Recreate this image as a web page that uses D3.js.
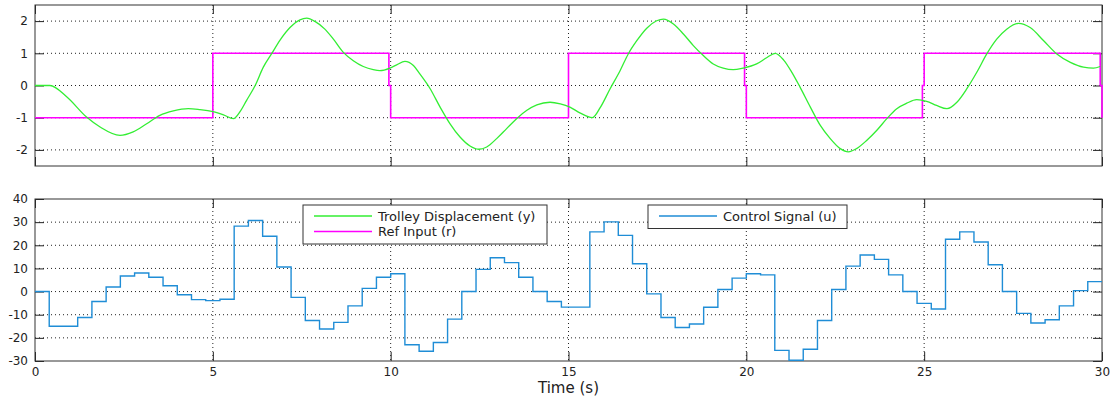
<!DOCTYPE html>
<html>
<head>
<meta charset="utf-8">
<script src="https://cdn.jsdelivr.net/npm/d3@7"></script>
<style>
  body { margin: 0; background: #fff; }
  text { font-family: "DejaVu Sans", sans-serif; fill: #222; }
</style>
</head>
<body>
<script>
'use strict';

// trolley displacement y
let yTimes = [0, 0.42, 0.89, 1.45, 1.83, 2.39, 2.76, 3.14, 3.51, 3.89, 4.31, 4.64, 4.97, 5.3, 5.58, 5.76, 5.95,
  6.19, 6.42, 6.65, 6.89, 7.17, 7.45, 7.64, 7.87, 8.15, 8.39, 8.67, 8.95, 9.23, 9.51, 9.7, 9.98, 10.17, 10.4,
  10.64, 10.82, 11.11, 11.39, 11.67, 11.95, 12.23, 12.47, 12.7, 12.98, 13.26, 13.54, 13.83, 14.11, 14.48, 14.77,
  15.04, 15.32, 15.67, 15.9, 16.17, 16.45, 16.68, 16.92, 17.2, 17.48, 17.67, 17.95, 18.23, 18.51, 18.79, 19.07,
  19.35, 19.63, 19.91, 20.29, 20.57, 20.81, 21.05, 21.28, 21.51, 21.8, 22.08, 22.36, 22.64, 22.87, 23.1, 23.39,
  23.67, 23.95, 24.23, 24.51, 24.79, 25.07, 25.35, 25.64, 25.92, 26.2, 26.48, 26.76, 27.04, 27.32, 27.65, 27.98,
  28.36, 28.73, 29.11, 29.48, 29.76, 29.95];
let yValues = [0, 0, -0.35, -0.98, -1.29, -1.55, -1.44, -1.19, -0.93, -0.79, -0.72, -0.75, -0.8, -0.91, -1.03, -0.82, -0.46,
  0, 0.57, 0.98, 1.41, 1.8, 2.04, 2.09, 1.99, 1.75, 1.44, 1.03, 0.77, 0.59, 0.49, 0.46, 0.54, 0.64, 0.75,
  0.62, 0.36, -0.1, -0.67, -1.19, -1.6, -1.88, -1.98, -1.91, -1.65, -1.34, -1.03, -0.77, -0.6, -0.52, -0.57,
  -0.67, -0.85, -1.0, -0.67, -0.1, 0.46, 0.98, 1.39, 1.78, 2.01, 2.06, 1.91, 1.6, 1.24, 0.93, 0.67,
  0.54, 0.49, 0.54, 0.67, 0.86, 1.0, 0.79, 0.41, -0.05, -0.67, -1.24, -1.65, -1.96, -2.06, -1.96, -1.7,
  -1.39, -1.03, -0.72, -0.55, -0.44, -0.49, -0.62, -0.72, -0.52, -0.1, 0.41, 0.98, 1.44, 1.75, 1.93, 1.8,
  1.39, 0.98, 0.72, 0.57, 0.54, 0.59];

// reference input r (square wave corners)
let rTimes = [0, 5, 5, 9.95, 9.95, 10, 10, 15, 15, 19.95, 19.95, 20, 20, 24.95, 24.95, 25, 25, 29.95, 29.95, 30, 30];
let rValues = [-1, -1, 1, 1, 0, 0, -1, -1, 1, 1, 0, 0, -1, -1, 0, 0, 1, 1, 0, 0, -1];

// control signal u, held every 0.4 s
let uStep = 0.4;
let uValues = [0, -15, -15, -11.2, -4.3, 2, 6.7, 8, 6.2, 2.5, -1.4, -3.5, -3.9, -3.3, 28.3, 30.7, 23.9, 10.6, -2.5,
  -12.5, -16.2, -13.3, -6.2, 1.4, 6.2, 7.7, -23, -25.8, -22, -11.9, 0, 9.6, 14.6, 12.5, 6.2, 0, -4.3, -6.7,
  -6.7, 25.8, 30.1, 24.3, 12, -1, -11.2, -15.5, -14, -6.8, 0.9, 5.8, 7.7, 7.2, -25.4, -29.7, -24.9, -12.5, 0.9,
  11, 15.8, 13.9, 7.2, 0, -5.1, -7.5, 22.6, 25.8, 21.4, 11.6, 0, -9.4, -13.6, -12.2, -6.2, 0.4, 4.3];

let xTicks = [0, 5, 10, 15, 20, 25, 30];
let topTicks = [-2, -1, 0, 1, 2];
let botTicks = [-30, -20, -10, 0, 10, 20, 30, 40];

let width = 1114;
let height = 402;
let left = 35, right = 1102;
let tickLen = 9;

let svg = d3.select('body').append('svg')
    .attr('width', width)
    .attr('height', height);

let x = d3.scaleLinear().domain([0, 30]).range([left, right]);
let yTop = d3.scaleLinear().domain([-2.5, 2.5]).range([166, 5]);
let yBot = d3.scaleLinear().domain([-30, 40]).range([361, 199]);

// plain hyphen for negatives, like the original
let fmt = d => String(d);

let panel = function(y, ticks, id, showX) {
  let g = svg.append('g');
  let [y0, y1] = y.range();

  g.append('clipPath').attr('id', id)
    .append('rect')
      .attr('x', left - 1).attr('y', y1 - 1)
      .attr('width', right - left + 3).attr('height', y0 - y1 + 2);

  // dotted grid
  g.selectAll('.gx')
    .data(xTicks.slice(1, -1))
    .enter().append('line')
      .attr('x1', d => x(d)).attr('x2', d => x(d))
      .attr('y1', y1).attr('y2', y0)
      .attr('stroke', '#222').attr('stroke-dasharray', '1,3');
  g.selectAll('.gy')
    .data(ticks.filter(d => y(d) > y1 + 1 && y(d) < y0 - 1))
    .enter().append('line')
      .attr('x1', left).attr('x2', right)
      .attr('y1', d => y(d)).attr('y2', d => y(d))
      .attr('stroke', '#222').attr('stroke-dasharray', '1,3');

  let styleAxis = a => {
    a.select('.domain').remove();
    a.selectAll('line').attr('stroke', '#222');
    a.selectAll('text').style('font-size', '12px').attr('fill', '#222');
  };

  g.append('g')
    .attr('transform', `translate(${left},0)`)
    .call(d3.axisLeft(y).tickValues(ticks).tickSize(-tickLen).tickPadding(7).tickFormat(fmt))
    .call(styleAxis);
  g.append('g')
    .attr('transform', `translate(${right},0)`)
    .call(d3.axisRight(y).tickValues(ticks).tickSize(-tickLen).tickFormat(''))
    .call(styleAxis);
  g.append('g')
    .attr('transform', `translate(0,${y0})`)
    .call(d3.axisBottom(x).tickValues(xTicks).tickSize(-tickLen).tickPadding(6)
      .tickFormat(showX ? fmt : ''))
    .call(styleAxis);
  g.append('g')
    .attr('transform', `translate(0,${y1})`)
    .call(d3.axisTop(x).tickValues(xTicks).tickSize(-tickLen).tickFormat(''))
    .call(styleAxis);

  g.append('rect')
    .attr('x', left).attr('y', y1)
    .attr('width', right - left).attr('height', y0 - y1)
    .attr('fill', 'none').attr('stroke', '#333');

  return g;
};

let gTop = panel(yTop, topTicks, 'clipTop', false);
let gBot = panel(yBot, botTicks, 'clipBot', true);

// top panel: reference and displacement
let refLine = d3.line()
    .x((d, i) => x(rTimes[i]))
    .y(d => yTop(d));
gTop.append('path')
    .datum(rValues)
    .attr('clip-path', 'url(#clipTop)')
    .attr('fill', 'none')
    .attr('stroke', '#ff00ff')
    .attr('stroke-width', 1.6)
    .attr('d', refLine);

let dispLine = d3.line()
    .curve(d3.curveMonotoneX)
    .x((d, i) => x(yTimes[i]))
    .y(d => yTop(d));
gTop.append('path')
    .datum(yValues)
    .attr('clip-path', 'url(#clipTop)')
    .attr('fill', 'none')
    .attr('stroke', '#33ee33')
    .attr('stroke-width', 1.3)
    .attr('d', dispLine);

// bottom panel: zero-order-hold control signal
let uData = uValues.map((v, i) => ({t: i * uStep, v: v}));
uData.push({t: 30, v: uValues[uValues.length - 1]});
let ctrlLine = d3.line()
    .curve(d3.curveStepAfter)
    .x(d => x(d.t))
    .y(d => yBot(d.v));
gBot.append('path')
    .datum(uData)
    .attr('clip-path', 'url(#clipBot)')
    .attr('fill', 'none')
    .attr('stroke', '#1f8dd6')
    .attr('stroke-width', 1.4)
    .attr('d', ctrlLine);

// legends
let legend = function(x0, y0, w, items) {
  let g = svg.append('g').attr('transform', `translate(${x0},${y0})`);
  g.append('rect')
    .attr('width', w).attr('height', items.length * 15.5 + 8)
    .attr('fill', '#fff').attr('stroke', '#333');
  items.forEach((it, i) => {
    let cy = 11 + i * 15.5;
    g.append('line')
      .attr('x1', 11).attr('x2', 69)
      .attr('y1', cy).attr('y2', cy)
      .attr('stroke', it.color).attr('stroke-width', 1.4);
    g.append('text')
      .attr('x', 75).attr('y', cy)
      .attr('dy', '0.35em')
      .style('font-size', '13px')
      .text(it.label);
  });
};

legend(303, 205, 244, [
  {label: 'Trolley Displacement (y)', color: '#33ee33'},
  {label: 'Ref Input (r)', color: '#ff00ff'}
]);
legend(648, 205, 199, [
  {label: 'Control Signal (u)', color: '#1f8dd6'}
]);

svg.append('text')
    .attr('x', (left + right) / 2)
    .attr('y', 393)
    .attr('text-anchor', 'middle')
    .style('font-size', '15px')
    .text('Time (s)');
</script>
</body>
</html>
